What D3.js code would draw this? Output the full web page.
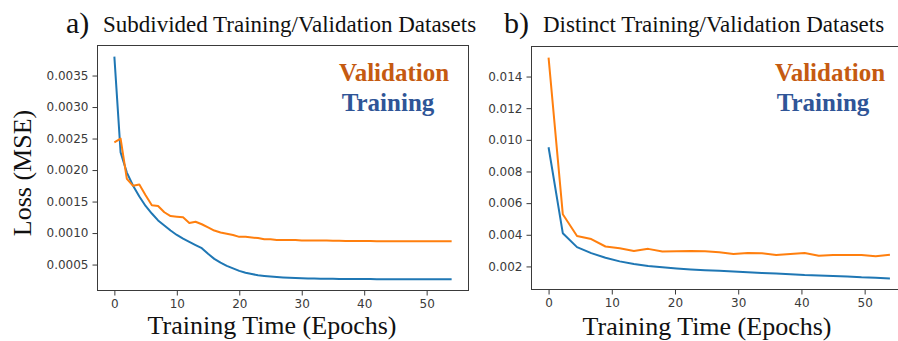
<!DOCTYPE html>
<html>
<head>
<meta charset="utf-8">
<script src="https://cdn.jsdelivr.net/npm/d3@7"></script>
<style>
  html, body { margin: 0; padding: 0; background: #fff; overflow: hidden; }
  svg { display: block; }
  .tick text { font-family: "DejaVu Sans", sans-serif; font-size: 12px; fill: #3a3a3a; }
  .tick line { stroke: #3a3a3a; }
  .serif { font-family: "Liberation Serif", "Times New Roman", serif; fill: #111; }
</style>
</head>
<body>
<svg id="chart" width="898" height="341"></svg>
<script>
// ---- panel a: subdivided training/validation datasets (one value per epoch) ----
const epochsA = [0,1,2,3,4,5,6,7,8,9,10,11,12,13,14,15,16,17,18,19,20,21,22,23,24,25,26,27,
  28,29,30,31,32,33,34,35,36,37,38,39,40,41,42,43,44,45,46,47,48,49,50,51,52,53,54];
const trainA = [0.00380,0.00228,0.00196,0.00175,0.00158,0.00143,0.00131,0.00120,0.00112,0.00104,
  0.00097,0.00091,0.00086,0.00081,0.00076,0.00067,0.00059,0.00053,0.00048,0.00044,
  0.00040,0.00037,0.00035,0.00033,0.00032,0.00031,0.000302,0.000296,0.00029,0.000286,
  0.000282,0.000279,0.000277,0.000275,0.000274,0.000273,0.000272,0.000271,0.00027,0.00027,
  0.000269,0.000269,0.000268,0.000268,0.000267,0.000267,0.000267,0.000266,0.000266,0.000266,
  0.000266,0.000265,0.000265,0.000265,0.000265];
const validA = [0.00244,0.00250,0.00186,0.00175,0.00177,0.00160,0.00144,0.00143,0.00133,0.00127,
  0.00126,0.00125,0.00116,0.00118,0.00114,0.00109,0.00104,0.00101,0.00099,0.00097,
  0.00094,0.00094,0.00093,0.00092,0.00090,0.00090,0.00089,0.00089,0.00089,0.00089,
  0.00088,0.00088,0.00088,0.00088,0.00088,0.000878,0.000876,0.000875,0.000874,0.000873,
  0.000872,0.000872,0.000871,0.000871,0.00087,0.00087,0.00087,0.00087,0.00087,0.00087,
  0.00087,0.00087,0.00087,0.00087,0.00087];

// ---- panel b: distinct training/validation datasets (sampled every 2.25 epochs) ----
const epochsB = [0,2.25,4.5,6.75,9,11.25,13.5,15.75,18,20.25,22.5,24.75,27,29.25,31.5,33.75,
  36,38.25,40.5,42.75,45,47.25,49.5,51.75,54];
const trainB = [0.00953,0.00410,0.00322,0.00284,0.00255,0.00232,0.00215,0.00203,0.00195,0.00187,
  0.00181,0.00176,0.00172,0.00168,0.00163,0.00159,0.00155,0.00151,0.00146,0.00143,
  0.00139,0.00136,0.00131,0.00128,0.00124];
const validB = [0.01520,0.00530,0.00392,0.00373,0.00326,0.00315,0.00298,0.00311,0.00294,0.00296,
  0.00297,0.00296,0.00289,0.00278,0.00285,0.00283,0.00272,0.00278,0.00285,0.00268,
  0.00272,0.00272,0.00272,0.00264,0.00274];

const xTicks = [0,10,20,30,40,50];
const yTicksA = [0.0005,0.0010,0.0015,0.0020,0.0025,0.0030,0.0035];
const yTicksB = [0.002,0.004,0.006,0.008,0.010,0.012,0.014];

const COLOR_TRAIN = "#1f77b4", COLOR_VALID = "#ff7f0e";
const LABEL_TRAIN = "#2f5597", LABEL_VALID = "#c55a11";

const svg = d3.select("#chart");

// pad a data extent by 5% on each side
function padded(lo, hi) { const m = (hi - lo) * 0.05; return [lo - m, hi + m]; }

function panel(opt) {
  const { left, right, top, bottom, epochs, train, valid, yTicks, yFmt } = opt;
  const x = d3.scaleLinear().domain(padded(0, 54)).range([left, right]);
  const all = train.concat(valid);
  const y = d3.scaleLinear().domain(padded(d3.min(all), d3.max(all))).range([bottom, top]);

  const g = svg.append("g");
  g.append("g").attr("transform", `translate(0,${bottom})`)
    .call(d3.axisBottom(x).tickValues(xTicks).tickFormat(d3.format("d")).tickSize(5).tickPadding(4))
    .call(s => s.select(".domain").remove());
  g.append("g").attr("transform", `translate(${left},0)`)
    .call(d3.axisLeft(y).tickValues(yTicks).tickFormat(yFmt).tickSize(5).tickPadding(4))
    .call(s => s.select(".domain").remove());

  const line = (vals) => d3.line().x((d, i) => x(epochs[i])).y(d => y(d))(vals);
  g.append("path").attr("d", line(train)).attr("fill", "none")
    .attr("stroke", COLOR_TRAIN).attr("stroke-width", 2).attr("stroke-linejoin", "round");
  g.append("path").attr("d", line(valid)).attr("fill", "none")
    .attr("stroke", COLOR_VALID).attr("stroke-width", 2).attr("stroke-linejoin", "round");

  g.append("rect").attr("x", left).attr("y", top)
    .attr("width", right - left).attr("height", bottom - top)
    .attr("fill", "none").attr("stroke", "#3a3a3a").attr("stroke-width", 1);
  return { x, y };
}

panel({ left: 97.5, right: 468.5, top: 45.5, bottom: 290.5,
  epochs: epochsA, train: trainA, valid: validA, yTicks: yTicksA, yFmt: d3.format(".4f") });
panel({ left: 531.5, right: 907, top: 46.5, bottom: 289.5,
  epochs: epochsB, train: trainB, valid: validB, yTicks: yTicksB, yFmt: d3.format(".3f") });

// titles
function title(xLetter, letter, xText, text) {
  svg.append("text").attr("class", "serif").attr("x", xLetter).attr("y", 33)
    .attr("font-size", 30).text(letter);
  svg.append("text").attr("class", "serif").attr("x", xText).attr("y", 32)
    .attr("font-size", 23).text(text);
}
title(66, "a)", 103, "Subdivided Training/Validation Datasets");
title(504, "b)", 543, "Distinct Training/Validation Datasets");

// axis labels
svg.append("text").attr("class", "serif").attr("font-size", 26)
  .attr("text-anchor", "middle")
  .attr("transform", "translate(31,173) rotate(-90)").text("Loss (MSE)");
svg.append("text").attr("class", "serif").attr("font-size", 26)
  .attr("text-anchor", "middle").attr("x", 272).attr("y", 334).text("Training Time (Epochs)");
svg.append("text").attr("class", "serif").attr("font-size", 26)
  .attr("text-anchor", "middle").attr("x", 707).attr("y", 334.5).text("Training Time (Epochs)");

// series labels
function labels(xv, xt) {
  svg.append("text").attr("class", "serif").attr("font-size", 25).attr("font-weight", "bold")
    .attr("text-anchor", "middle")
    .style("fill", LABEL_VALID).attr("x", xv).attr("y", 81).text("Validation");
  svg.append("text").attr("class", "serif").attr("font-size", 25).attr("font-weight", "bold")
    .attr("text-anchor", "middle")
    .style("fill", LABEL_TRAIN).attr("x", xt).attr("y", 111).text("Training");
}
labels(394, 388);
labels(830, 823);
</script>
</body>
</html>
